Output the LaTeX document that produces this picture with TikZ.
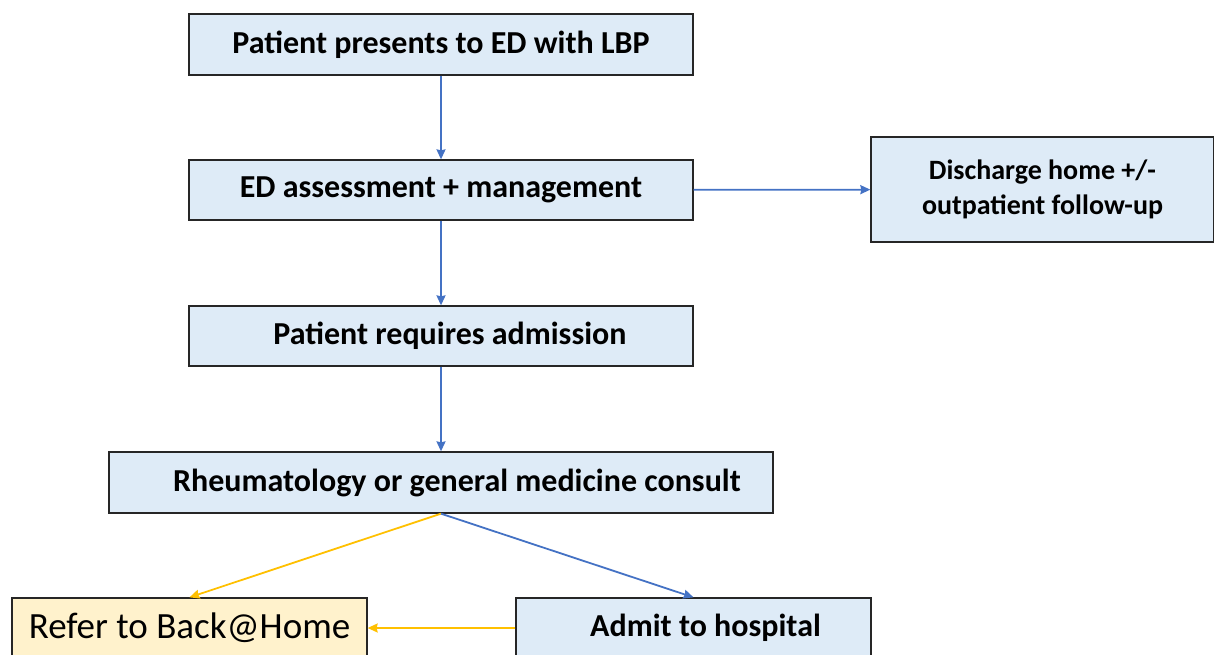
\documentclass[tikz,border=0pt]{standalone}
\usepackage{fontspec}
\setmainfont{Carlito}
\usetikzlibrary{positioning,arrows.meta}
\definecolor{boxblue}{HTML}{DEEBF7}
\definecolor{boxyellow}{HTML}{FFF2CC}
\definecolor{lineblue}{HTML}{4472C4}
\definecolor{lineyellow}{HTML}{FFC000}

\begin{document}
\begin{tikzpicture}[x=1pt,y=-1pt,>={Stealth[length=10pt,width=9pt,inset=1pt]},
  stepbox/.style={draw=black!85,line width=1.3pt,fill=boxblue,inner sep=0pt,
    font=\fontsize{32}{36}\selectfont\bfseries,align=center},
  homebox/.style={stepbox,fill=boxyellow,font=\fontsize{37}{42}\selectfont},
  blueflow/.style={->,draw=lineblue,line width=1.8pt},
  yellowflow/.style={->,draw=lineyellow,line width=1.8pt}]
\useasboundingbox (0,0) rectangle (1214,655);
\node[stepbox,minimum width=504pt,minimum height=61pt] (present) at (441,44.5) {Patient presents to ED with LBP};
\node[stepbox,minimum width=504pt,minimum height=60pt] (assess) at (441,190) {ED assessment + management};
\node[stepbox,minimum width=343pt,minimum height=105pt,font=\fontsize{28}{35}\selectfont\bfseries] (discharge) at (1042.5,189.5) {Discharge home +/-\\outpatient follow-up};
\node[stepbox,minimum width=504pt,minimum height=60pt] (admission) at (441,336) {\hspace*{18pt}Patient requires admission};
\node[stepbox,minimum width=664pt,minimum height=61pt] (consult) at (441,482.5) {\hspace*{32pt}Rheumatology or general medicine consult};
\node[homebox,minimum width=355pt,minimum height=60pt] (backhome) at (189.5,628) {Refer to Back@Home};
\node[stepbox,minimum width=355pt,minimum height=60pt] (hospital) at (693.5,628) {\hspace*{24pt}Admit to hospital};
% connectors
\draw[blueflow] (present) -- (assess);
\draw[blueflow] (assess) -- (discharge);
\draw[blueflow] (assess) -- (admission);
\draw[blueflow] (admission) -- (consult);
\draw[yellowflow] (consult.south) -- (backhome.north);
\draw[blueflow] (consult.south) -- (hospital.north);
\draw[yellowflow] (hospital) -- (backhome);
\end{tikzpicture}
\end{document}
